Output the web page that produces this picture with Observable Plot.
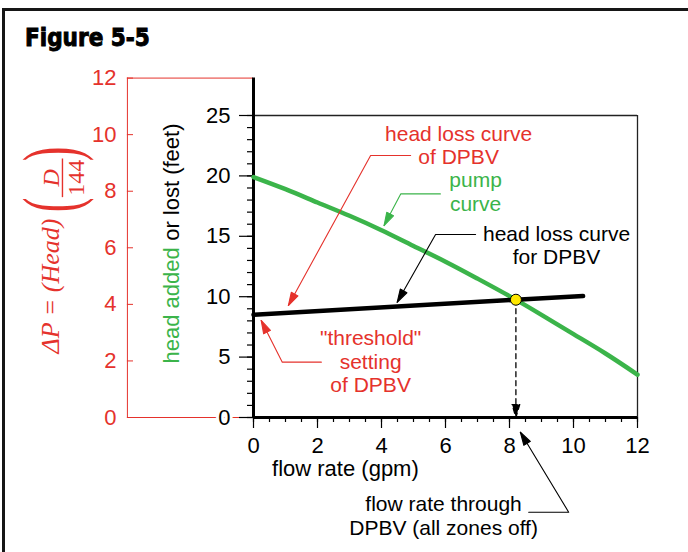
<!DOCTYPE html>
<html>
<head>
<meta charset="utf-8">
<script src="https://cdn.jsdelivr.net/npm/d3@7"></script>
<script src="https://cdn.jsdelivr.net/npm/@observablehq/plot@0.6"></script>
<style>
  html, body { margin: 0; padding: 0; background: #fff; }
  #page { position: relative; width: 688px; height: 552px; overflow: hidden; background: #fff; }
  #border { position: absolute; left: 2px; top: 8px; width: 720px; height: 600px;
            border-left: 3px solid #161616; border-top: 3px solid #161616; box-sizing: border-box; }
  #title { position: absolute; left: 25px; top: 26px; margin: 0;
           font-family: "DejaVu Sans Condensed", "DejaVu Sans", sans-serif; font-stretch: condensed;
           font-weight: 900; font-size: 24px; line-height: 25px; color: #000;
           -webkit-text-stroke: 0.9px #000; }
  #chart { position: absolute; left: 0; top: 62px; }
</style>
</head>
<body>
<div id="page">
  <div id="chart"></div>
  <div id="title">Figure 5-5</div>
  <div id="border"></div>
</div>
<script>
// ---------- data ----------
const flow      = [0, 1, 2, 3, 4, 5, 6, 7, 8, 9, 10, 11, 12];                       // gpm
const pumpHead  = [19.9, 18.9, 17.8, 16.7, 15.5, 14.2, 12.9, 11.5, 10.05, 8.5, 6.9, 5.3, 3.55]; // feet
const lossFlow  = [0, 8.2, 10.3];            // DPBV head loss curve
const lossHead  = [8.5, 9.75, 10.05];
const operatingFlow = 8.2;
const operatingHead = 9.75;

const xMajorTicks = [0, 2, 4, 6, 8, 10, 12];
const xMinorTicks = [0, 0.5, 1, 1.5, 2, 2.5, 3, 3.5, 4, 4.5, 5, 5.5, 6, 6.5, 7, 7.5, 8, 8.5, 9, 9.5, 10, 10.5, 11, 11.5, 12];
const yMajorTicks = [0, 5, 10, 15, 20, 25];
const yMinorTicks = [0, 1, 2, 3, 4, 5, 6, 7, 8, 9, 10, 11, 12, 13, 14, 15, 16, 17, 18, 19, 20, 21, 22, 23, 24, 25];
const psiTicks    = [0, 2, 4, 6, 8, 10, 12];
const density = 61.5;                         // lb/ft3, D in the formula
const psiAxisX = -3.94;                       // position of the ΔP axis (gpm units, left of the chart)

const RED = "#e5322c", GREEN = "#3bb44a", BLACK = "#000";

// annotations (positions in data units: x gpm, y feet)
const noteText  = ["head loss curve\nof DPBV", "pump\ncurve", "head loss curve\nfor DPBV", "\"threshold\"\nsetting\nof DPBV", "flow rate through\nDPBV (all zones off)"];
const noteX     = [6.41, 6.94, 9.47, 3.66, 5.94];
const noteY     = [22.55, 18.73, 14.28, 4.66, -8.09];
const noteColor = [RED, GREEN, BLACK, RED, BLACK];

const arrowPaths = [
  [[4.91, 21.69], [3.66, 21.69], [1.09, 9.27]],
  [[5.84, 18.51], [4.60, 18.51], [4.08, 15.89]],
  [[6.94, 15.15], [5.69, 15.15], [4.49, 9.54]],
  [[2.12, 4.58],  [0.90, 4.58],  [0.24, 8.03]],
  [[8.60, -7.84], [9.85, -7.84], [8.34, -1.22]]
];
const arrowColor = [RED, GREEN, BLACK, RED, BLACK];

// ΔP formula pieces (rotated axis label)
const formulaText   = ["ΔP = (Head)", "(", "D", "144", ")"];
const formulaX      = [-6.08, -5.516, -6.09, -5.31, -5.516];
const formulaY      = [5.30, 17.59, 19.85, 19.85, 21.81];
const formulaAnchor = ["start", "middle", "middle", "middle", "middle"];
const formulaSize   = [26, 44, 24, 24, 44];
const formulaStyle  = ["italic", "normal", "italic", "normal", "normal"];
const fractionBar   = {x: -5.97, y1: 18.2, y2: 21.4};
const bigParenStretch = 1.8;

const yLabelX = -2.34;

// ---------- helpers ----------
const feet = psi => psi * 144 / density;
const pump = flow.map((f, i) => ({flow: f, head: pumpHead[i]}));
const loss = lossFlow.map((f, i) => ({flow: f, head: lossHead[i]}));
const SANS = "Liberation Sans, Arial, Helvetica, sans-serif";
const SERIF = "Liberation Serif, Times New Roman, serif";

function filledArrow(color, context) {
  const doc = (context && context.document) || document;
  const ns = "http://www.w3.org/2000/svg";
  const m = doc.createElementNS(ns, "marker");
  m.setAttribute("viewBox", "-14 -5 15 10");
  m.setAttribute("markerWidth", 15);
  m.setAttribute("markerHeight", 10);
  m.setAttribute("markerUnits", "userSpaceOnUse");
  m.setAttribute("refX", 0);
  m.setAttribute("refY", 0);
  m.setAttribute("orient", "auto");
  const p = doc.createElementNS(ns, "path");
  p.setAttribute("d", "M-13,-3.8L0,0L-13,3.8Z");
  p.setAttribute("fill", color);
  m.appendChild(p);
  return m;
}

function build(marker) {
  const marks = [];
  // ΔP (psi) axis, drawn in red to the left
  marks.push(Plot.ruleX([psiAxisX], {y1: 0, y2: feet(12), stroke: RED, strokeWidth: 1}));
  marks.push(Plot.ruleY([feet(12)], {x1: psiAxisX, x2: 0, stroke: RED, strokeWidth: 1}));
  marks.push(Plot.ruleY([0], {x1: psiAxisX, x2: 0, stroke: RED, strokeWidth: 1}));
  marks.push(Plot.ruleY(psiTicks, {y: feet, x1: psiAxisX, x2: psiAxisX + 0.19, stroke: RED, strokeWidth: 1}));
  marks.push(Plot.text(psiTicks, {x: psiAxisX, y: feet, text: d => String(d), textAnchor: "end", dx: -11,
                                  fill: RED, fontSize: 22, fontFamily: SANS}));
  // frame (top and right, thin)
  marks.push(Plot.ruleY([25], {x1: 0, x2: 12, stroke: "#222", strokeWidth: 1.3}));
  marks.push(Plot.ruleX([12], {y1: 0, y2: 25, stroke: "#222", strokeWidth: 1.3}));
  // axes
  marks.push(Plot.axisX(xMinorTicks, {tickSize: 5, fill: "none", label: null, strokeWidth: 1.2}));
  marks.push(Plot.axisX(xMajorTicks, {tickSize: 11, tickPadding: 9, fontSize: 22, fontFamily: SANS, label: null, strokeWidth: 1.2}));
  marks.push(Plot.axisY(yMinorTicks, {tickSize: 6, fill: "none", label: null, strokeWidth: 1.2}));
  marks.push(Plot.axisY(yMajorTicks, {tickSize: 14, tickPadding: 9, fontSize: 22, fontFamily: SANS, label: null, strokeWidth: 1.2,
                                      textStroke: "white", textStrokeWidth: 6}));
  marks.push(Plot.ruleX([0], {y1: 0, y2: feet(12), stroke: BLACK, strokeWidth: 3}));
  marks.push(Plot.ruleY([0], {x1: 0, x2: 12, stroke: BLACK, strokeWidth: 2.8}));
  // curves
  marks.push(Plot.line(pump, {x: "flow", y: "head", stroke: GREEN, strokeWidth: 4.5, curve: "natural"}));
  marks.push(Plot.line(loss, {x: "flow", y: "head", stroke: BLACK, strokeWidth: 4.5, strokeLinecap: "round"}));
  // annotation arrows
  arrowPaths.forEach((pts, i) => {
    marks.push(Plot.line(pts, {x: d => d[0], y: d => d[1], stroke: arrowColor[i], strokeWidth: 1.1, markerEnd: marker}));
  });
  // dashed drop line from operating point
  marks.push(Plot.line([{flow: operatingFlow, head: operatingHead}, {flow: operatingFlow, head: 0}],
    {x: "flow", y: "head", stroke: BLACK, strokeWidth: 1.3, strokeDasharray: "5,4", markerEnd: marker}));
  marks.push(Plot.dot([{flow: operatingFlow, head: operatingHead}],
    {x: "flow", y: "head", r: 5.5, fill: "#ffe800", stroke: BLACK, strokeWidth: 1}));
  // annotation labels
  noteText.forEach((t, i) => {
    marks.push(Plot.text([t], {x: () => noteX[i], y: () => noteY[i], text: d => d, fill: noteColor[i],
      fontSize: 21, fontFamily: SANS, lineHeight: 1.12}));
  });
  // x axis label
  marks.push(Plot.text(["flow rate (gpm)"], {x: () => 0.58, y: () => -4.3, text: d => d, textAnchor: "start",
    fontSize: 22, fontFamily: SANS, fill: BLACK}));
  // y axis label (two colours)
  marks.push(Plot.text(["head added"], {x: () => yLabelX, y: () => 4.47, text: d => d, rotate: -90, textAnchor: "start",
    lineAnchor: "bottom", fontSize: 22, fontFamily: SANS, fill: GREEN}));
  marks.push(Plot.text(["or lost (feet)"], {x: () => yLabelX, y: () => 24.34, text: d => d, rotate: -90, textAnchor: "end",
    lineAnchor: "bottom", fontSize: 22, fontFamily: SANS, fill: BLACK}));
  // ΔP formula
  formulaText.forEach((t, i) => {
    marks.push(Plot.text([t], {x: () => formulaX[i], y: () => formulaY[i], text: d => d, rotate: -90,
      textAnchor: formulaAnchor[i], lineAnchor: "bottom", fontSize: formulaSize[i], fontStyle: formulaStyle[i],
      fontFamily: SERIF, fill: RED}));
  });
  marks.push(Plot.ruleX([fractionBar.x], {y1: fractionBar.y1, y2: fractionBar.y2, stroke: RED, strokeWidth: 1.4}));

  return Plot.plot({
    width: 688,
    height: 490,
    marginTop: 53,
    marginBottom: 135,
    marginLeft: 253,
    marginRight: 51,
    x: {domain: [0, 12], label: null},
    y: {domain: [0, 25], label: null},
    style: {fontFamily: SANS, fontSize: "22px", background: "transparent", overflow: "visible", color: "#000"},
    marks
  });
}

let chart;
try { chart = build(filledArrow); } catch (e) { chart = build("arrow"); }
// tall, thin parentheses around the fraction (stretched along the glyph height)
d3.select(chart).selectAll("text")
  .filter(function () { return this.textContent === "(" || this.textContent === ")"; })
  .attr("transform", function () {
    const t = this.getAttribute("transform") || "";
    return t.replace("rotate(-90)", `scale(${bigParenStretch},1) rotate(-90)`);
  });
document.getElementById("chart").appendChild(chart);
</script>
</body>
</html>
